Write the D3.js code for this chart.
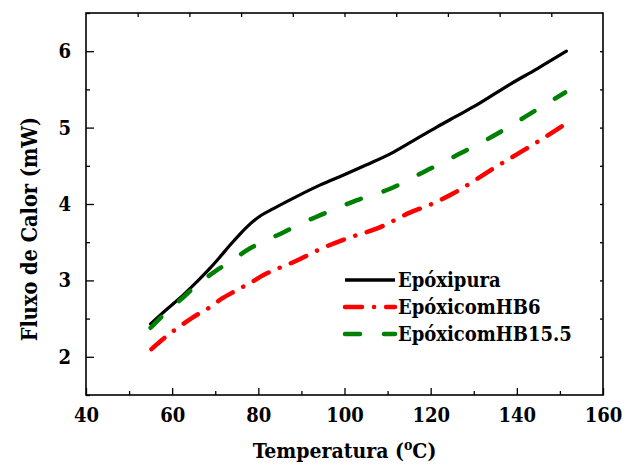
<!DOCTYPE html>
<html>
<head>
<meta charset="utf-8">
<script src="https://cdn.jsdelivr.net/npm/d3@7"></script>
<style>
  body { margin: 0; background: #fff; }
</style>
</head>
<body>
<div id="wrapper"></div>
<script>
// Data
const seriesNames = ['Epóxipura', 'EpóxicomHB6', 'EpóxicomHB15.5'];

const pureTemp = [55, 58.5, 62.6, 65.7, 68.8, 71, 73.4, 75.8, 78.1, 80.6, 83.5, 89.3, 94.4, 99.8, 105, 111.4, 116, 121.5, 126, 130.8, 138.5, 144.7, 151.5];
const pureFlow = [2.43, 2.61, 2.81, 2.98, 3.16, 3.30, 3.46, 3.61, 3.74, 3.85, 3.94, 4.11, 4.25, 4.38, 4.51, 4.68, 4.83, 5.01, 5.15, 5.30, 5.57, 5.77, 6.0];

const hb6Temp = [55.2, 57.2, 61.8, 64.9, 68.8, 71.5, 74.6, 78.5, 81.2, 84.3, 88.6, 94.4, 100.6, 107.6, 115.3, 120.7, 125.3, 130, 135, 140, 144.7, 150.5];
const hb6Flow = [2.10, 2.20, 2.40, 2.52, 2.65, 2.76, 2.86, 2.98, 3.07, 3.15, 3.25, 3.41, 3.55, 3.68, 3.89, 4.01, 4.14, 4.30, 4.48, 4.65, 4.81, 5.02];

const hb155Temp = [55, 58, 62.6, 65.7, 70.3, 73.8, 78.1, 81.6, 85.9, 89.3, 93.4, 102.9, 110.6, 118.4, 126.1, 134.2, 141.9, 151.2];
const hb155Flow = [2.38, 2.55, 2.78, 2.94, 3.13, 3.26, 3.42, 3.52, 3.63, 3.73, 3.83, 4.05, 4.20, 4.42, 4.64, 4.88, 5.14, 5.46];

const xTicks = [40, 60, 80, 100, 120, 140, 160];
const yTicks = [2, 3, 4, 5, 6];

const series = [
  { name: seriesNames[0], temp: pureTemp, flow: pureFlow, color: '#000000', dash: null },
  { name: seriesNames[1], temp: hb6Temp, flow: hb6Flow, color: '#ff0000', dash: '17,12,0.1,12' },
  { name: seriesNames[2], temp: hb155Temp, flow: hb155Flow, color: '#008000', dash: '15,24' },
];

const fontFamily = '"DejaVu Serif Condensed", "DejaVu Serif", serif';

const dimensions = {
  width: 630,
  height: 472,
  margin: { top: 13, right: 27, bottom: 77, left: 86 },
};
dimensions.boundedWidth = dimensions.width - dimensions.margin.left - dimensions.margin.right;
dimensions.boundedHeight = dimensions.height - dimensions.margin.top - dimensions.margin.bottom;

// Scales
const xScale = d3.scaleLinear().domain([40, 160]).range([0, dimensions.boundedWidth]);
const yScale = d3.scaleLinear().domain([1.5, 6.5]).range([dimensions.boundedHeight, 0]);

const svg = d3.select('#wrapper')
  .append('svg')
  .attr('width', dimensions.width)
  .attr('height', dimensions.height);

const bounds = svg.append('g')
  .attr('transform', `translate(${dimensions.margin.left}, ${dimensions.margin.top})`);

// Frame
bounds.append('rect')
  .attr('width', dimensions.boundedWidth)
  .attr('height', dimensions.boundedHeight)
  .attr('fill', 'none')
  .attr('stroke', '#000')
  .attr('stroke-width', 1.6);

function styleAxis(g) {
  g.select('.domain').remove();
  g.selectAll('.tick line').attr('stroke', '#000').attr('stroke-width', 1.3);
  g.selectAll('.tick text')
    .attr('fill', '#000')
    .style('font-family', fontFamily)
    .style('font-weight', 'bold')
    .style('font-size', '20px');
}

// Bottom axis: major + minor
const xMinor = d3.range(50, 160, 20);
bounds.append('g')
  .attr('transform', `translate(0, ${dimensions.boundedHeight})`)
  .call(d3.axisBottom(xScale).tickValues(xMinor).tickSize(-4).tickFormat(''))
  .call(styleAxis);
bounds.append('g')
  .attr('transform', `translate(0, ${dimensions.boundedHeight})`)
  .call(d3.axisBottom(xScale).tickValues(xTicks).tickSize(-7).tickPadding(13).tickFormat(d3.format('d')))
  .call(styleAxis);

// Left axis: major + minor
const yMinor = [1.5, 2.5, 3.5, 4.5, 5.5, 6.5];
bounds.append('g')
  .call(d3.axisLeft(yScale).tickValues(yMinor).tickSize(-4).tickFormat(''))
  .call(styleAxis);
bounds.append('g')
  .call(d3.axisLeft(yScale).tickValues(yTicks).tickSize(-8).tickPadding(15).tickFormat(d3.format('d')))
  .call(styleAxis);

// Top axis: small ticks every 12 units
bounds.append('g')
  .call(d3.axisTop(xScale).tickValues(d3.range(52, 160, 12)).tickSize(-4).tickFormat(''))
  .call(styleAxis);

// Right axis: small ticks every 0.5
bounds.append('g')
  .attr('transform', `translate(${dimensions.boundedWidth}, 0)`)
  .call(d3.axisRight(yScale).tickValues(d3.range(2, 6.5, 0.5)).tickSize(-3).tickFormat(''))
  .call(styleAxis);

// Lines
const line = d3.line()
  .x((d) => xScale(d[0]))
  .y((d) => yScale(d[1]))
  .curve(d3.curveMonotoneX);

series.forEach((s) => {
  const pts = s.temp.map((t, i) => [t, s.flow[i]]);
  bounds.append('path')
    .datum(pts)
    .attr('d', line)
    .attr('fill', 'none')
    .attr('stroke', s.color)
    .attr('stroke-width', s.dash ? 4.5 : 3.2)
    .attr('stroke-linecap', 'round')
    .attr('stroke-linejoin', 'round')
    .attr('stroke-dasharray', s.dash);
});

// Legend
const legend = svg.append('g').attr('transform', 'translate(345, 280)');
series.forEach((s, i) => {
  const row = legend.append('g').attr('transform', `translate(0, ${i * 27})`);
  row.append('line')
    .attr('x1', 0).attr('x2', 50)
    .attr('stroke', s.color)
    .attr('stroke-width', s.dash ? 4.5 : 3.5)
    .attr('stroke-linecap', s.dash ? 'round' : 'butt')
    .attr('stroke-dasharray', s.dash);
  row.append('text')
    .attr('x', 53)
    .attr('y', 7)
    .style('font-family', fontFamily)
    .style('font-weight', 'bold')
    .style('font-size', '20px')
    .text(s.name);
});

// Axis labels
svg.append('text')
  .attr('x', dimensions.margin.left + dimensions.boundedWidth / 2)
  .attr('y', 458)
  .attr('text-anchor', 'middle')
  .style('font-family', fontFamily)
  .style('font-weight', 'bold')
  .style('font-size', '21px')
  .html('Temperatura (<tspan dy="-8" font-size="14">o</tspan><tspan dy="8">C)</tspan>');

svg.append('text')
  .attr('transform', `translate(37, ${dimensions.margin.top + dimensions.boundedHeight / 2 + 25}) rotate(-90)`)
  .attr('text-anchor', 'middle')
  .style('font-family', fontFamily)
  .style('font-weight', 'bold')
  .style('font-size', '21.5px')
  .text('Fluxo de Calor (mW)');
</script>
</body>
</html>
